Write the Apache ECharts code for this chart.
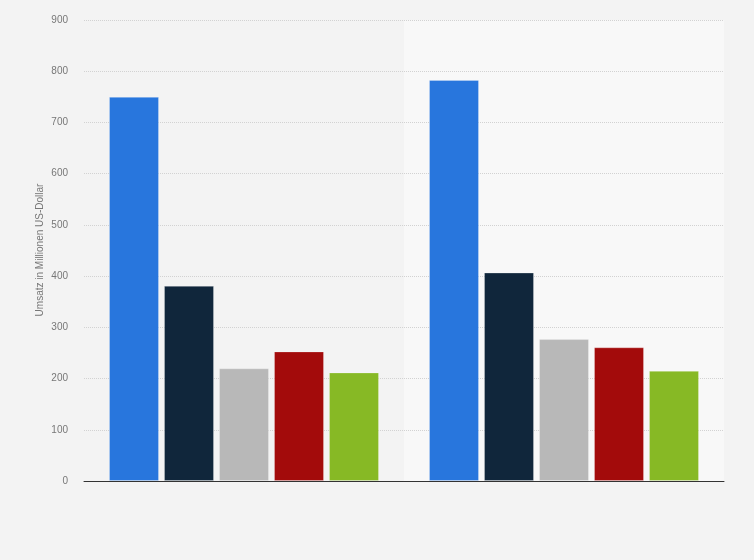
<!DOCTYPE html>
<html><head><meta charset="utf-8">
<script src="https://cdn.jsdelivr.net/npm/echarts@6/dist/echarts.min.js"></script>
<style>html,body{margin:0;padding:0;background:#f3f3f3}#c{width:754px;height:560px}</style>
</head><body><div id="c"></div>
<script>
const categories = ['A', 'B'];
const seriesNames = ['S1', 'S2', 'S3', 'S4', 'S5'];
const seriesColors = ['#2876dd', '#10263b', '#b8b8b8', '#a30b0b', '#87b925'];
const s1 = [750, 783];
const s2 = [381, 407];
const s3 = [220, 277];
const s4 = [253, 261];
const s5 = [212, 215];
const values = [s1, s2, s3, s4, s5];
const yTicks = [0, 100, 200, 300, 400, 500, 600, 700, 800, 900];
const yTitle = 'Umsatz in Millionen US-Dollar';

const chart = echarts.init(document.getElementById('c'), null, {renderer: 'canvas'});
chart.setOption({
  backgroundColor: '#f3f3f3',
  animation: false,
  grid: {left: 84, right: 30, top: 20, bottom: 79},
  graphic: [{
    type: 'text', x: 40, y: 250, rotation: Math.PI / 2,
    style: {text: yTitle, fill: '#777', fontSize: 10, fontFamily: 'Liberation Sans, Arial, sans-serif',
            align: 'center', verticalAlign: 'middle'}
  }],
  xAxis: {
    type: 'category', data: categories, z: 0,
    axisLine: {show: true, lineStyle: {color: '#333', width: 1}},
    axisTick: {show: false}, axisLabel: {show: false},
    splitArea: {show: true, areaStyle: {color: ['rgba(0,0,0,0)', '#f8f8f8']}}
  },
  yAxis: {
    type: 'value', min: yTicks[0], max: yTicks[yTicks.length - 1], interval: 100, z: 1,
    axisLine: {show: false}, axisTick: {show: false},
    axisLabel: {color: '#777', fontSize: 10, margin: 16, fontFamily: 'Liberation Sans, Arial, sans-serif'},
    splitLine: {showMinLine: false, lineStyle: {color: '#d2d2d2', type: [1, 1], width: 1}}
  },
  series: seriesNames.map((n, i) => ({
    name: n, type: 'bar', data: values[i], barWidth: 50, barGap: '10%', z: 2,
    itemStyle: {color: seriesColors[i], borderColor: 'rgba(255,255,255,0.25)', borderWidth: 1}
  }))
});
</script></body></html>
